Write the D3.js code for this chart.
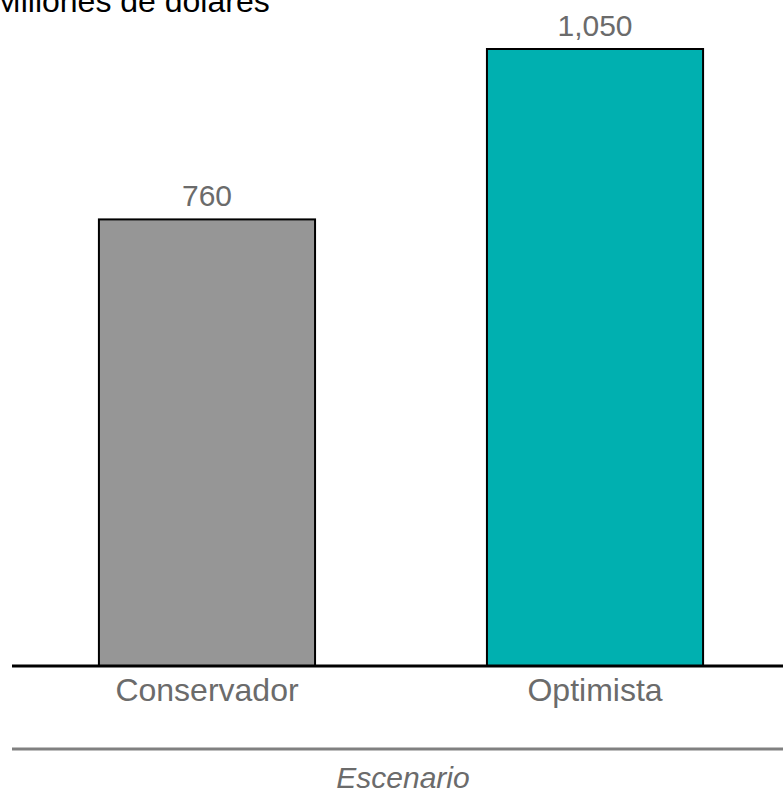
<!DOCTYPE html>
<html><head><meta charset="utf-8">
<script src="https://cdn.jsdelivr.net/npm/d3@7"></script>
<style>body{margin:0;background:#fff;}svg{display:block;}</style>
</head><body>
<script>
const categories = ["Conservador", "Optimista"];
const values = [760, 1050];
const valueLabels = ["760", "1,050"];
const colors = ["#969696", "#00B0B0"];
const yTitle = "Millones de dólares";
const xTitle = "Escenario";

const W = 783, H = 792;
const FONT = "Liberation Sans, Arial, sans-serif";
const svg = d3.select("body").append("svg").attr("width", W).attr("height", H);
const baseY = 666;
const x = d3.scaleBand().domain(categories).range([12, 790]).paddingInner(0.443).paddingOuter(0.224);
const y = d3.scaleLinear().domain([0, 1050]).range([baseY, 49]);

svg.selectAll("rect.bar").data(values).enter().append("rect")
  .attr("class","bar")
  .attr("x",(d,i)=>x(categories[i]))
  .attr("width",x.bandwidth())
  .attr("y",d=>y(d))
  .attr("height",d=>baseY-y(d))
  .attr("fill",(d,i)=>colors[i])
  .attr("stroke","#000").attr("stroke-width",2);

svg.selectAll("text.val").data(values).enter().append("text")
  .attr("class","val")
  .attr("x",(d,i)=>x(categories[i])+x.bandwidth()/2)
  .attr("y",d=>y(d)-13)
  .attr("text-anchor","middle")
  .attr("font-family",FONT)
  .attr("font-size",30).attr("fill","#6b6b6b")
  .text((d,i)=>valueLabels[i]);

svg.append("line").attr("x1",12).attr("x2",783).attr("y1",baseY).attr("y2",baseY)
  .attr("stroke","#000").attr("stroke-width",3);

const xAxis = svg.append("g").attr("transform",`translate(0,${baseY})`)
  .call(d3.axisBottom(x).tickSize(0).tickPadding(35));
xAxis.select(".domain").remove();
xAxis.selectAll("text").attr("font-family",FONT)
  .attr("font-size",32).attr("fill","#6b6b6b").attr("dy","0");

svg.append("line").attr("x1",12).attr("x2",783).attr("y1",749).attr("y2",749)
  .attr("stroke","#808080").attr("stroke-width",3);

svg.append("text").attr("x",403).attr("y",788)
  .attr("text-anchor","middle").attr("font-style","italic")
  .attr("font-family",FONT)
  .attr("font-size",30).attr("fill","#6b6b6b").text(xTitle);

svg.append("text").attr("x",-6).attr("y",12)
  .attr("font-family",FONT)
  .attr("font-size",32).attr("fill","#000").text(yTitle);
</script>
</body></html>
